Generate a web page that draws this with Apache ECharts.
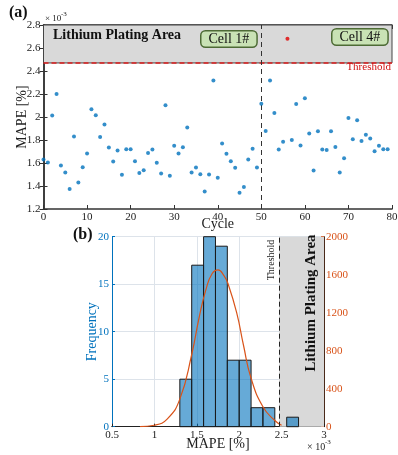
<!DOCTYPE html>
<html><head><meta charset="utf-8">
<script src="https://cdn.jsdelivr.net/npm/echarts@6/dist/echarts.min.js"></script>
<style>html,body{margin:0;padding:0;background:#fff}#c{width:398px;height:455px}</style>
</head><body><div id="c"></div>
<script>
// ---- data (values in units of 1e-3) ----
var cycles = [];
for (var i = 0; i < 80; i++) cycles.push(i);
var mape = [1.63,1.605,2.012,2.2,1.579,1.518,1.373,1.83,1.431,1.564,
            1.683,2.067,2.015,1.827,1.934,1.735,1.613,1.709,1.498,1.72,
            1.72,1.616,1.512,1.538,1.688,1.717,1.602,1.509,2.102,1.489,
            1.749,1.683,1.738,1.908,1.518,1.561,1.503,1.353,1.50,2.318,
            1.472,1.769,1.68,1.616,1.558,1.342,1.391,1.631,1.723,1.561,
            2.116,1.879,2.318,2.035,1.717,1.784,2.68,1.801,2.113,1.752,
            2.162,1.856,1.535,1.876,1.717,1.712,1.876,1.74,1.518,1.642,
            1.992,1.807,1.972,1.792,1.845,1.813,1.703,1.749,1.72,1.72];
var threshold = 2.47;
var cellSplit = 50;
var binEdges = [1.30,1.44,1.58,1.72,1.86,2.00,2.14,2.28,2.42,2.56,2.70];
var binCounts = [5,17,20,19,7,7,2,2,0,1];
var fitX = [0.83,1.0,1.15,1.30,1.44,1.53,1.61,1.68,1.75,1.82,1.87,1.97,2.05,2.14,2.28,2.42,2.50];
var fitY = [0,15,80,290,760,1160,1450,1610,1650,1590,1500,1200,860,510,210,65,15];
var aXTicks = [0,80,10], aYTicks = [1.2,2.8,0.2];
var bXTicks = [0.5,3,0.5], bFreqTicks = [0,20,5], bDensTicks = [0,2000,400];

var serif = 'Liberation Serif';
var chart = echarts.init(document.getElementById('c'), null, {renderer:'canvas'});
function fmt(v){ return String(+v.toFixed(2)); }
var tick = {show:true, inside:true, length:4, lineStyle:{color:'#333'}};
var pts = mape.map(function(v,i){ return [cycles[i], v]; });
var histData = binCounts.map(function(c,i){ return [binEdges[i], binEdges[i+1], c]; });
var fitData = fitX.map(function(x,i){ return [x, fitY[i]]; });
var blue = '#0072bd', orange = '#d95319';

chart.setOption({
  animation:false,
  grid:[
    {left:43.5, top:25, width:348.5, height:184, outerBoundsMode:'none', containLabel:false},
    {left:112, top:236.7, width:212, height:190, outerBoundsMode:'none', containLabel:false}
  ],
  xAxis:[
    {gridIndex:0, type:'value', min:aXTicks[0], max:aXTicks[1], interval:aXTicks[2],
     axisLine:{lineStyle:{color:'#333', width:1.5}}, axisTick:tick, splitLine:{show:false},
     axisLabel:{fontFamily:serif, fontSize:11, color:'#222', margin:3, formatter:fmt},
     name:'Cycle', nameLocation:'middle', nameGap:8, nameMoveOverlap:false, nameTextStyle:{fontFamily:serif, fontSize:14, color:'#222', verticalAlign:'top'}},
    {gridIndex:0, type:'value', position:'top', min:aXTicks[0], max:aXTicks[1], interval:aXTicks[2],
     axisLine:{lineStyle:{color:'#333', width:1.5}}, axisTick:tick, axisLabel:{show:false}, splitLine:{show:false}},
    {gridIndex:1, type:'value', min:bXTicks[0], max:bXTicks[1], interval:bXTicks[2],
     axisLine:{onZero:false, lineStyle:{color:'#222', width:1}}, axisTick:{show:true, inside:true, length:3, lineStyle:{color:'#222'}},
     splitLine:{show:true, lineStyle:{color:'#dde3ea', width:1}},
     axisLabel:{fontFamily:serif, fontSize:11, color:'#222', margin:3, formatter:fmt},
     name:'MAPE [%]', nameLocation:'middle', nameGap:11, nameMoveOverlap:false, nameTextStyle:{fontFamily:serif, fontSize:14, color:'#222', verticalAlign:'top'}},
    {gridIndex:1, type:'value', position:'top', min:bXTicks[0], max:bXTicks[1], interval:bXTicks[2],
     axisLine:{lineStyle:{color:'#222', width:1}}, axisTick:{show:false}, axisLabel:{show:false}, splitLine:{show:false}}
  ],
  yAxis:[
    {gridIndex:0, type:'value', min:aYTicks[0], max:aYTicks[1], interval:aYTicks[2],
     axisLine:{lineStyle:{color:'#333', width:1.5}}, axisTick:tick, splitLine:{show:false},
     axisLabel:{fontFamily:serif, fontSize:11, color:'#222', margin:3, formatter:fmt},
     name:'MAPE [%]', nameLocation:'middle', nameGap:14, nameMoveOverlap:false, nameTextStyle:{fontFamily:serif, fontSize:14, color:'#222'}},
    {gridIndex:0, type:'value', position:'right', min:aYTicks[0], max:aYTicks[1], interval:aYTicks[2],
     axisLine:{lineStyle:{color:'#333', width:1.5}}, axisTick:tick, axisLabel:{show:false}, splitLine:{show:false}},
    {gridIndex:1, type:'value', min:bFreqTicks[0], max:bFreqTicks[1], interval:bFreqTicks[2],
     axisLine:{lineStyle:{color:blue, width:1}}, axisTick:{show:true, inside:true, length:3, lineStyle:{color:blue}},
     splitLine:{show:true, lineStyle:{color:'#dde3ea', width:1}},
     axisLabel:{fontFamily:serif, fontSize:11, color:blue, margin:3},
     name:'Frequency', nameLocation:'middle', nameGap:13, nameMoveOverlap:false, nameTextStyle:{fontFamily:serif, fontSize:14, color:blue}},
    {gridIndex:1, type:'value', position:'right', min:bDensTicks[0], max:bDensTicks[1], interval:bDensTicks[2],
     axisLine:{lineStyle:{color:'#4a2a1a', width:1}}, axisTick:{show:true, inside:true, length:3, lineStyle:{color:orange}},
     splitLine:{show:false},
     axisLabel:{fontFamily:serif, fontSize:11, color:orange, margin:2, formatter:function(v){ return String(v); }}}
  ],
  series:[
    {type:'scatter', xAxisIndex:0, yAxisIndex:0, data:[], z:1, silent:true,
     markArea:{silent:true, itemStyle:{color:'#d9d9d9', borderColor:'#444', borderWidth:1},
       label:{show:false},
       data:[[{xAxis:aXTicks[0], yAxis:threshold},{xAxis:aXTicks[1], yAxis:aYTicks[1]}]]},
     markLine:{silent:true, symbol:'none',
       data:[
         {yAxis:threshold, lineStyle:{color:'#e02020', type:[5,3], width:1.5},
          label:{show:true, position:'insideEndBottom', distance:[1,-1], formatter:'Threshold', fontFamily:serif, fontSize:11, color:'#d01010'}},
         {xAxis:cellSplit, lineStyle:{color:'#333', type:[5,4], width:1}, label:{show:false}}
       ]}},
    {type:'scatter', xAxisIndex:0, yAxisIndex:0, z:5, symbolSize:4, data:pts,
     itemStyle:{color:function(p){ return p.value[1] > threshold ? '#e00000' : blue; }}},
    {type:'scatter', xAxisIndex:2, yAxisIndex:2, data:[], z:1, silent:true,
     markArea:{silent:true, itemStyle:{color:'#d9d9d9'},
       data:[[{xAxis:threshold, yAxis:bFreqTicks[0]},{xAxis:bXTicks[1], yAxis:bFreqTicks[1]}]]},
     markLine:{silent:true, symbol:'none',
       data:[{xAxis:threshold, lineStyle:{color:'#222', type:[5,3], width:1},
          label:{show:true, position:'insideEndTop', distance:[3,3], formatter:'Threshold', fontFamily:serif, fontSize:10, color:'#222'}}]}},
    {type:'custom', xAxisIndex:2, yAxisIndex:2, z:3, data:histData,
     renderItem:function(params, api){
       if (api.value(2) <= 0) return null;
       var p0 = api.coord([api.value(0), api.value(2)]);
       var p1 = api.coord([api.value(1), 0]);
       return {type:'rect', shape:{x:p0[0], y:p0[1], width:p1[0]-p0[0], height:p1[1]-p0[1]},
               style:{fill:'rgba(0,114,189,0.6)', stroke:'#1a1a1a', lineWidth:1}};
     }},
    {type:'line', xAxisIndex:2, yAxisIndex:3, z:4, data:fitData, smooth:true, showSymbol:false,
     lineStyle:{color:orange, width:1.2}}
  ],
  graphic:[
    {type:'text', left:9, top:5, style:{text:'(a)', fontFamily:serif, fontWeight:'bold', fontSize:16, fill:'#111'}},
    {type:'text', left:73, top:227, style:{text:'(b)', fontFamily:serif, fontWeight:'bold', fontSize:16, fill:'#111'}},
    {type:'text', left:45, top:14, style:{text:'× 10', fontFamily:serif, fontSize:9, fill:'#222'}},
    {type:'text', left:61, top:11, style:{text:'-3', fontFamily:serif, fontSize:7, fill:'#222'}},
    {type:'text', left:307, top:442, style:{text:'× 10', fontFamily:serif, fontSize:10, fill:'#222'}},
    {type:'text', left:325, top:439, style:{text:'-3', fontFamily:serif, fontSize:7, fill:'#222'}},
    {type:'text', left:53, top:28, z:10, style:{text:'Lithium Plating Area', fontFamily:serif, fontWeight:'bold', fontSize:14, fill:'#111'}},
    {type:'text', left:200, top:30, z:10, style:{text:'Cell 1#', fontFamily:serif, fontSize:14, fill:'#111',
       backgroundColor:'#c9e2b5', borderColor:'#4d6b35', borderWidth:1.5, borderRadius:4, padding:[1,7,0,7]}},
    {type:'text', left:331, top:28, z:10, style:{text:'Cell 4#', fontFamily:serif, fontSize:14, fill:'#111',
       backgroundColor:'#c9e2b5', borderColor:'#4d6b35', borderWidth:1.5, borderRadius:4, padding:[1,7,0,7]}},
    {type:'text', x:311, y:303, rotation:Math.PI/2, z:10, style:{text:'Lithium Plating Area', fontFamily:serif, fontWeight:'bold', fontSize:15, fill:'#111', align:'center', verticalAlign:'middle'}}
  ]
});
</script></body></html>
